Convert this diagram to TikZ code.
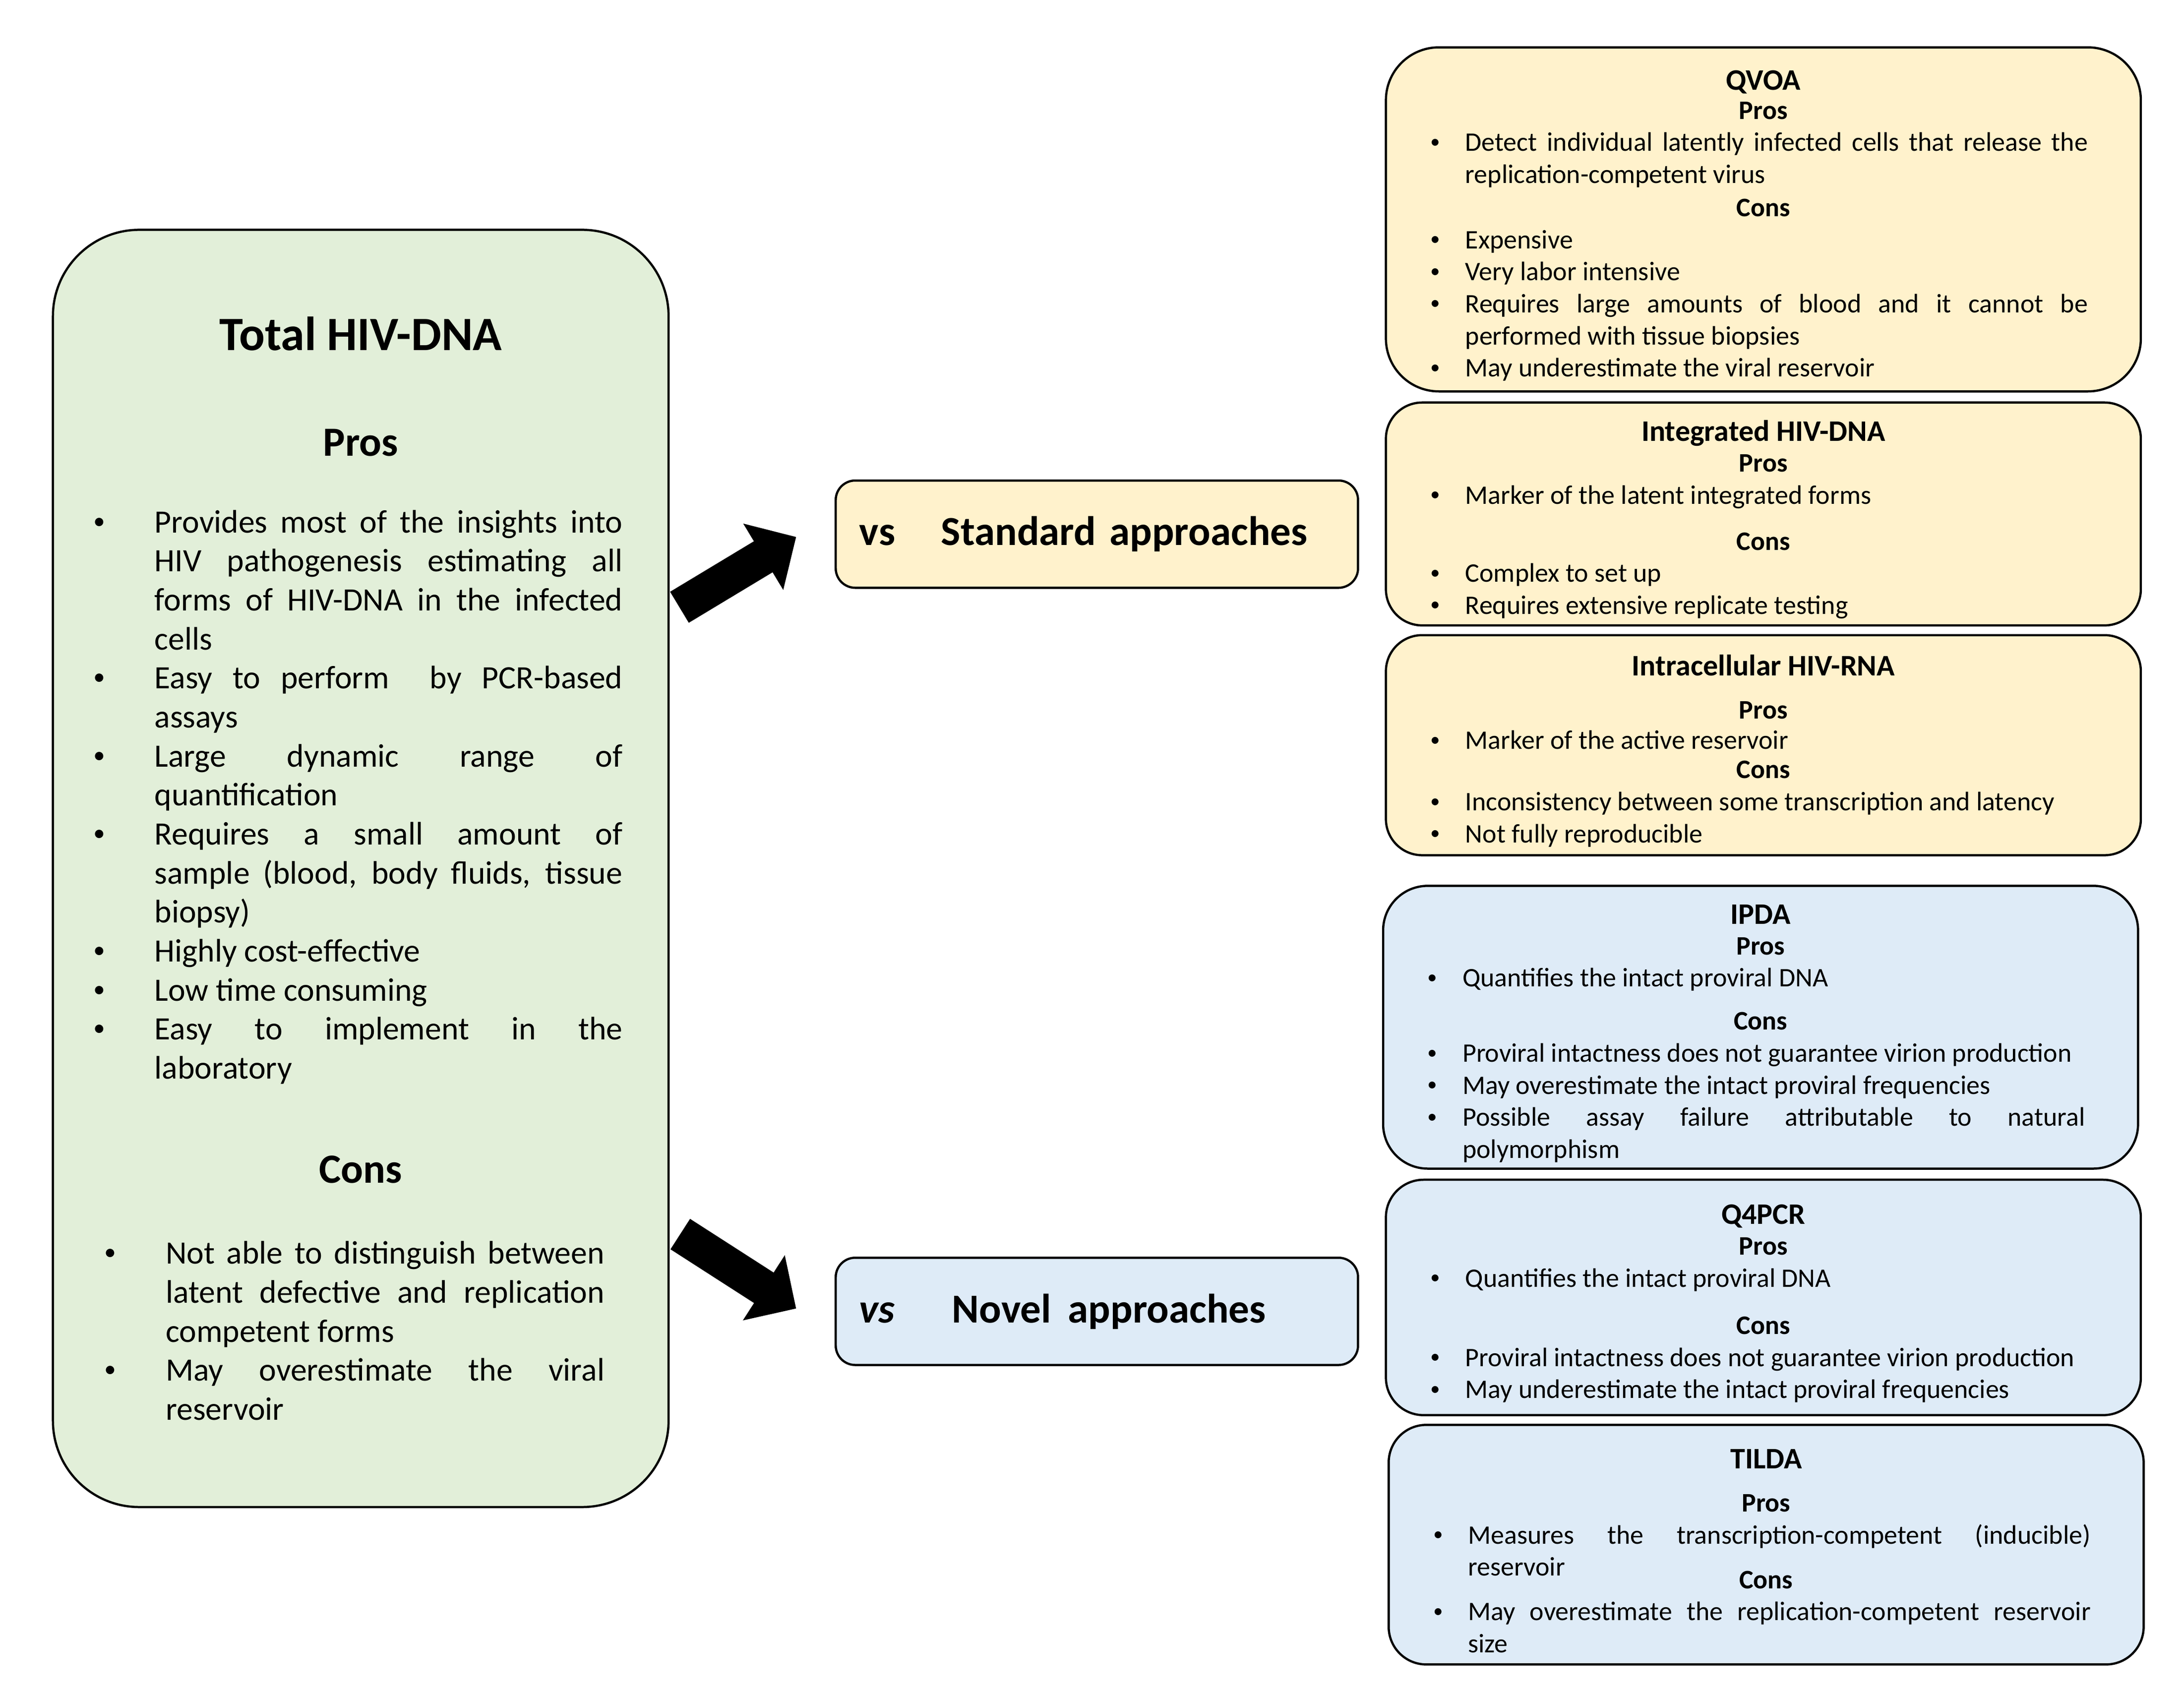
\documentclass[tikz,border=0pt]{standalone}
\usepackage{fontspec}
\setmainfont{Carlito}
\usepackage{enumitem}
\usetikzlibrary{arrows.meta}
\definecolor{greenfill}{HTML}{E2EFD9}
\definecolor{orangefill}{HTML}{FFF2CC}
\definecolor{bluefill}{HTML}{DEEBF7}
\hyphenpenalty=10000
\exhyphenpenalty=10000
% headings inside the right boxes
\newcommand{\rhead}[2][0pt]{\par\vspace{#1}{\centering\bfseries\fontsize{10.7}{11.5}\selectfont #2\par}}
\newcommand{\rsub}[2][0pt]{\par\vspace{#1}{\centering\bfseries\fontsize{9.6}{11.5}\selectfont #2\par}}
\newcommand{\sbul}{\raisebox{0.12em}{\fontsize{7}{7}\selectfont\textbullet}}
\newcommand{\lbul}{\raisebox{0.12em}{\fontsize{8.5}{8.5}\selectfont\textbullet}}
\newenvironment{rlist}{\begin{itemize}[label=\sbul,nosep,leftmargin=12.5pt,labelindent=0pt,labelwidth=12.5pt,labelsep=0pt,align=left,rightmargin=3pt]}{\end{itemize}}
\newenvironment{plist}{\begin{itemize}[label=\lbul,nosep,leftmargin=22pt,labelindent=0pt,labelwidth=22pt,labelsep=0pt,align=left,rightmargin=2pt]}{\end{itemize}}
\newenvironment{clist}{\begin{itemize}[label=\lbul,nosep,leftmargin=26pt,labelindent=4pt,labelwidth=22pt,labelsep=0pt,align=left,rightmargin=8.5pt]}{\end{itemize}}
\begin{document}
\begin{tikzpicture}[x=0.5pt, y=-0.5pt,
  lbox/.style={draw, line width=0.8pt, fill=greenfill, rounded corners=31pt, text width=192pt, inner xsep=14.5pt, inner ysep=0pt, minimum height=458.5pt, align=justify, font=\fontsize{11.7}{14}\selectfont},
  vsbox/.style={draw, line width=0.8pt, rounded corners=7pt, text width=170.5pt, inner xsep=8.5pt, minimum height=38.5pt, align=left, font=\bfseries\fontsize{14.8}{18}\selectfont},
  rbox/.style={draw, line width=0.8pt, text width=239pt, inner xsep=16pt, inner ysep=0pt, align=justify, font=\fontsize{9.6}{11.5}\selectfont},
  bigarrow/.style={line width=13pt, -{Triangle[length=13.8pt, width=27pt]}}]
\fill[white] (0,0) rectangle (1568,1216.2);
\useasboundingbox (0,0) rectangle (1568,1216.2);

% left box
\node[lbox] (tot) at (259,623.5) {
  {\centering\bfseries\fontsize{17.2}{20}\selectfont Total HIV-DNA\par}
  {\centering\bfseries\fontsize{14.9}{38pt}\selectfont Pros\par}
  \vspace{13.5pt}
  \begin{plist}
  \item Provides most of the insights into\linebreak HIV pathogenesis estimating all\linebreak forms of HIV-DNA in the infected\linebreak cells
  \item Easy to perform\ \ by PCR-based\linebreak assays
  \item Large dynamic range of\linebreak quantification
  \item Requires a small amount of\linebreak sample (blood, body fluids, tissue\linebreak biopsy)
  \item Highly cost-effective
  \item Low time consuming
  \item Easy to implement in the\linebreak laboratory
  \end{plist}
  {\centering\bfseries\fontsize{14.9}{37.5pt}\selectfont Cons\par}
  \vspace{15pt}
  \begin{clist}
  \item Not able to distinguish between\linebreak latent defective and replication\linebreak competent forms
  \item May overestimate the viral\linebreak reservoir
  \end{clist}};

% middle boxes
\node[vsbox, fill=orangefill] (std) at (787.5,383.5) {vs\hspace{16.5pt}Standard approaches};
\node[vsbox, fill=bluefill] (nov) at (787.5,941.5) {\textit{vs}\hspace{20.5pt}Novel\hspace{6pt}approaches};

% arrows
\coordinate (up) at ([xshift=3.5pt, yshift=93.75pt]tot.east);
\coordinate (down) at ([xshift=3.8pt, yshift=-131.25pt]tot.east);
\draw[bigarrow] (up) -- ([xshift=-13.8pt, yshift=-1pt]std.west);
\draw[bigarrow] (down) -- ([xshift=-13.8pt, yshift=1pt]nov.west);

% standard approaches
\node[rbox, fill=orangefill, rounded corners=19pt, minimum height=123.5pt] (qvoa) at (1266,157.5) {
  \rhead{QVOA}
  \rsub[-1pt]{Pros}
  \begin{rlist}
  \item Detect individual latently infected cells that release the\linebreak replication-competent virus
  \end{rlist}
  \rsub[0.5pt]{Cons}
  \begin{rlist}
  \item Expensive
  \item Very labor intensive
  \item Requires large amounts of blood and it cannot be\linebreak performed with tissue biopsies
  \item May underestimate the viral reservoir
  \end{rlist}};
\node[rbox, fill=orangefill, rounded corners=13pt, minimum height=80pt] (integ) at (1266,369) {
  \rhead{Integrated HIV-DNA}
  \rsub[-0.5pt]{Pros}
  \begin{rlist}
  \item Marker of the latent integrated forms
  \end{rlist}
  \rsub[5pt]{Cons}
  \begin{rlist}
  \item Complex to set up
  \item Requires extensive replicate testing
  \end{rlist}};
\node[rbox, fill=orangefill, rounded corners=13pt, minimum height=79pt] (intra) at (1266,535) {
  \rhead{Intracellular HIV-RNA}
  \rsub[4pt]{Pros}
  \vspace{-0.5pt}
  \begin{rlist}
  \item Marker of the active reservoir
  \end{rlist}
  \rsub[-1pt]{Cons}
  \begin{rlist}
  \item Inconsistency between some transcription and latency
  \item Not fully reproducible
  \end{rlist}};

% novel approaches
\node[rbox, fill=bluefill, rounded corners=16pt, minimum height=101.5pt] (ipda) at (1264,737.5) {
  \rhead{IPDA}
  \rsub[-0.5pt]{Pros}
  \begin{rlist}
  \item Quantifies the intact proviral DNA
  \end{rlist}
  \rsub[4pt]{Cons}
  \begin{rlist}
  \item Proviral intactness does not guarantee virion production
  \item May overestimate the intact proviral frequencies
  \item Possible assay failure attributable to natural\linebreak polymorphism
  \end{rlist}};
\node[rbox, fill=bluefill, rounded corners=13.5pt, minimum height=84.5pt] (qpcr) at (1266,931.5) {
  \rhead{Q4PCR}
  \rsub[-0.5pt]{Pros}
  \begin{rlist}
  \item Quantifies the intact proviral DNA
  \end{rlist}
  \rsub[5.5pt]{Cons}
  \begin{rlist}
  \item Proviral intactness does not guarantee virion production
  \item May underestimate the intact proviral frequencies
  \end{rlist}};
\node[rbox, fill=bluefill, rounded corners=13.5pt, minimum height=86pt] (tilda) at (1268,1109) {
  \rhead{TILDA}
  \rsub[4pt]{Pros}
  \begin{rlist}
  \item Measures the transcription-competent (inducible)\linebreak reservoir
  \end{rlist}
  \rsub[-7pt]{Cons}
  \begin{rlist}
  \item May overestimate the replication-competent reservoir\linebreak size
  \end{rlist}};
\end{tikzpicture}
\end{document}
